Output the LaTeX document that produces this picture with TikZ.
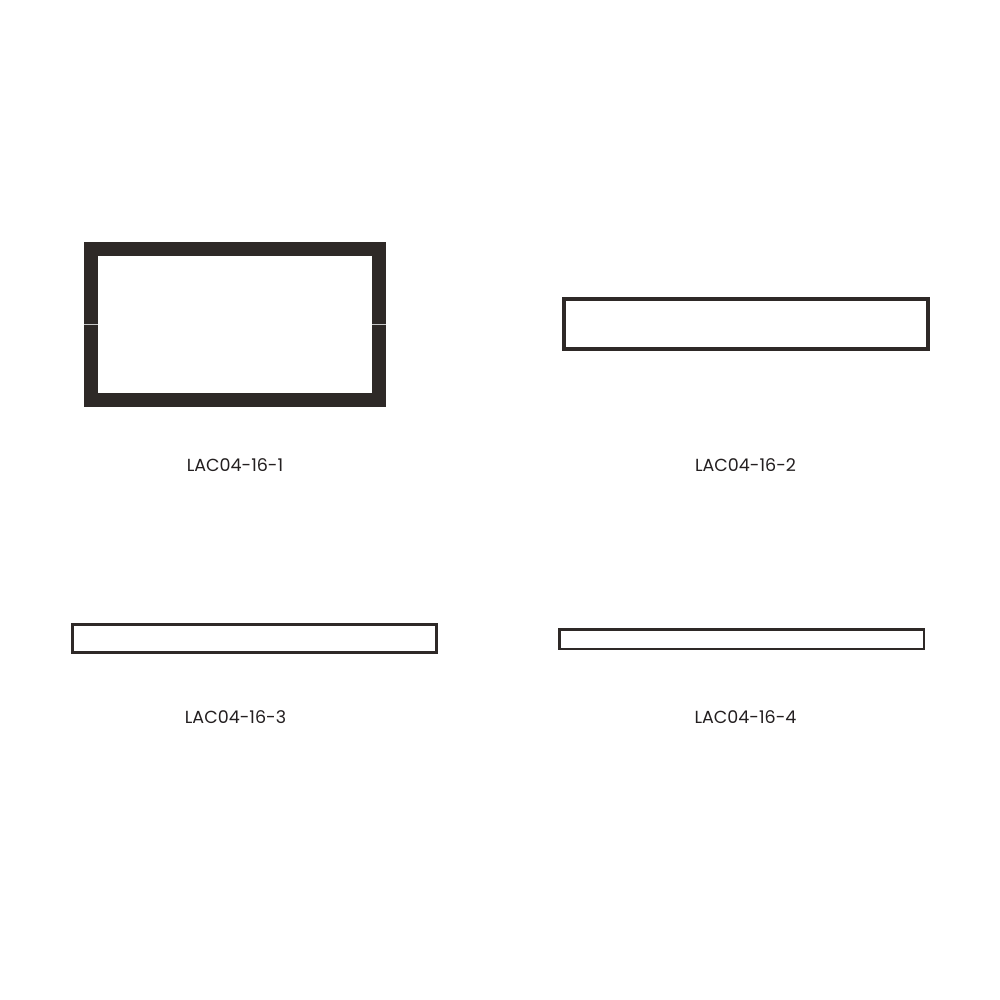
\documentclass[tikz,border=0pt]{standalone}
\usepackage{fontspec}
\setmainfont{Poppins}
\definecolor{frame}{HTML}{2E2927}
\definecolor{txt}{HTML}{231F20}
\begin{document}
\begin{tikzpicture}[x=1pt,y=-1pt,
  box/.style={draw=frame,fill=white,inner sep=0pt,outer sep=0pt},
  lbl/.style={text=txt,font=\fontsize{17.5}{19}\selectfont,inner sep=0pt}]
\useasboundingbox[fill=white] (0,0) rectangle (1000,1000);
\node[box,line width=14pt,minimum width=288pt,minimum height=150.5pt] (r1) at (235,324.25) {};
\draw[gray!45,line width=0.8pt] (84,324) -- (98,324) (372,324) -- (386,324);
\node[box,line width=4pt,minimum width=364pt,minimum height=50pt] (r2) at (746,324) {};
\node[box,line width=3pt,minimum width=364pt,minimum height=28pt] (r3) at (254.5,638.5) {};
\node[box,line width=2.5pt,minimum width=364.5pt,minimum height=19.5pt] (r4) at (741.5,639) {};
\node[lbl] (l1) at (235,465.5) {LAC04-16-1};
\node[lbl] (l2) at (745.5,465.5) {LAC04-16-2};
\node[lbl] (l3) at (235.5,717.5) {LAC04-16-3};
\node[lbl] (l4) at (745.5,717.5) {LAC04-16-4};
\end{tikzpicture}
\end{document}
